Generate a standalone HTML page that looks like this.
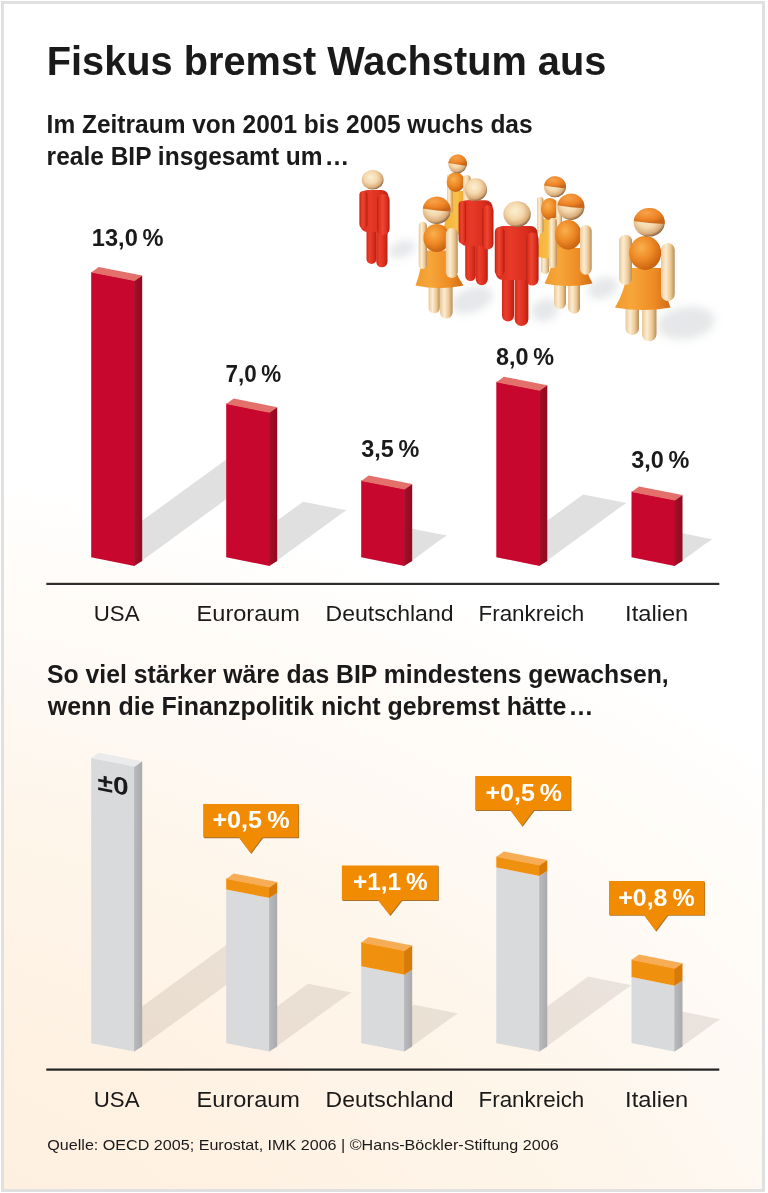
<!DOCTYPE html>
<html><head><meta charset="utf-8"><style>
html,body{margin:0;padding:0;background:#fff;}
body{width:768px;height:1193px;overflow:hidden;position:relative;font-family:"Liberation Sans",sans-serif;}
svg{position:absolute;left:0;top:0;}
text{font-family:"Liberation Sans",sans-serif;}
</style></head><body>
<svg width="768" height="1193" viewBox="0 0 768 1193">
<defs>
<radialGradient id="bg" gradientUnits="userSpaceOnUse" cx="-300" cy="1400" r="945" gradientTransform="translate(-300,1400) scale(1.556,1) translate(300,-1400)">
<stop offset="0" stop-color="#fdeddb"/>
<stop offset="0.295" stop-color="#fef0df"/>
<stop offset="0.476" stop-color="#fef2e4"/>
<stop offset="0.667" stop-color="#fef6eb"/>
<stop offset="0.743" stop-color="#fef8f1"/>
<stop offset="0.905" stop-color="#fffcf9"/>
<stop offset="1" stop-color="#ffffff"/>
</radialGradient>

<linearGradient id="gRed" x1="0" y1="0" x2="1" y2="0">
<stop offset="0" stop-color="#d2281a"/><stop offset="0.3" stop-color="#ea3f2c"/><stop offset="0.68" stop-color="#dd2e1e"/><stop offset="1" stop-color="#b32014"/></linearGradient>
<linearGradient id="gBeige" x1="0" y1="0" x2="1" y2="0">
<stop offset="0" stop-color="#e8c99a"/><stop offset="0.35" stop-color="#fcecd0"/><stop offset="0.7" stop-color="#ecc894"/><stop offset="1" stop-color="#b98c58"/></linearGradient>
<radialGradient id="gHead" cx="0.42" cy="0.38" r="0.62">
<stop offset="0" stop-color="#fbf0d2"/><stop offset="0.5" stop-color="#f4d8ac"/><stop offset="0.85" stop-color="#d9ab7a"/><stop offset="1" stop-color="#8e6a44"/></radialGradient>
<radialGradient id="gBall" cx="0.38" cy="0.35" r="0.7">
<stop offset="0" stop-color="#f9b04e"/><stop offset="0.5" stop-color="#ee8a26"/><stop offset="1" stop-color="#c45e0e"/></radialGradient>
<radialGradient id="gHair" cx="0.4" cy="0.3" r="0.7">
<stop offset="0" stop-color="#f7a24a"/><stop offset="0.6" stop-color="#ee8426"/><stop offset="1" stop-color="#c8651a"/></radialGradient>
<linearGradient id="gDress" x1="0" y1="0" x2="1" y2="0">
<stop offset="0" stop-color="#f29a2c"/><stop offset="0.3" stop-color="#f6a63a"/><stop offset="0.7" stop-color="#ee8c24"/><stop offset="1" stop-color="#d06c16"/></linearGradient>
<linearGradient id="gDressY" x1="0" y1="0" x2="1" y2="0">
<stop offset="0" stop-color="#f4b035"/><stop offset="0.5" stop-color="#f8c04a"/><stop offset="1" stop-color="#e39a22"/></linearGradient>
<linearGradient id="gRedT" x1="0" y1="0" x2="1" y2="0">
<stop offset="0" stop-color="#d62a1c"/><stop offset="0.35" stop-color="#e83a28"/><stop offset="0.7" stop-color="#dc2e1e"/><stop offset="1" stop-color="#b82216"/></linearGradient>
<linearGradient id="gArm" x1="0" y1="0" x2="1" y2="0">
<stop offset="0" stop-color="#b82014"/><stop offset="0.18" stop-color="#e0321f"/><stop offset="0.45" stop-color="#ee4632"/><stop offset="0.8" stop-color="#d82c1c"/><stop offset="1" stop-color="#a81c10"/></linearGradient>
<filter id="blur4" x="-50%" y="-50%" width="200%" height="200%"><feGaussianBlur stdDeviation="4"/></filter>
<filter id="blur6" x="-50%" y="-50%" width="200%" height="200%"><feGaussianBlur stdDeviation="6"/></filter>
<linearGradient id="gSideR" x1="0" y1="0" x2="1" y2="0"><stop offset="0" stop-color="#a80e28"/><stop offset="1" stop-color="#8e0a20"/></linearGradient>
<linearGradient id="gSideG" x1="0" y1="0" x2="1" y2="0"><stop offset="0" stop-color="#b9babd"/><stop offset="1" stop-color="#a9aaad"/></linearGradient>
</defs>
<rect x="0" y="0" width="768" height="1193" fill="#fff"/>
<rect x="2" y="2" width="762" height="1189" fill="url(#bg)"/>
<rect x="2.5" y="2.5" width="761" height="1188" fill="none" stroke="#e0e0e0" stroke-width="3"/>

<polygon points="98.7,552.3 227.6,458.4 271.1,467.0 263.6,472.0 134.7,565.9 91.2,557.3" fill="#e0e0e0"/>
<polygon points="233.7,552.3 303.1,501.7 346.6,510.3 339.1,515.3 269.7,565.9 226.2,557.3" fill="#e0e0e0"/>
<polygon points="368.7,552.3 403.4,527.0 446.9,535.6 439.4,540.6 404.7,565.9 361.2,557.3" fill="#e0e0e0"/>
<polygon points="503.8,552.3 583.1,494.5 626.6,503.1 619.1,508.1 539.8,565.9 496.3,557.3" fill="#e0e0e0"/>
<polygon points="639.0,552.3 668.7,530.6 712.2,539.2 704.7,544.2 675.0,565.9 631.5,557.3" fill="#e0e0e0"/>
<polygon points="91.2,271.9 134.7,280.6 134.7,565.9 91.2,557.3" fill="#c8072e"/>
<polygon points="134.1,280.6 142.2,275.6 142.2,560.9 134.1,565.9" fill="url(#gSideR)"/>
<polygon points="91.2,272.4 98.7,266.9 142.2,275.6 134.7,281.1" fill="#e3706a"/>
<polygon points="226.2,403.6 269.7,412.2 269.7,565.9 226.2,557.3" fill="#c8072e"/>
<polygon points="269.1,412.2 277.2,407.2 277.2,560.9 269.1,565.9" fill="url(#gSideR)"/>
<polygon points="226.2,404.1 233.7,398.6 277.2,407.2 269.7,412.8" fill="#e3706a"/>
<polygon points="361.2,480.5 404.7,489.1 404.7,565.9 361.2,557.3" fill="#c8072e"/>
<polygon points="404.1,489.1 412.2,484.1 412.2,560.9 404.1,565.9" fill="url(#gSideR)"/>
<polygon points="361.2,481.0 368.7,475.5 412.2,484.1 404.7,489.6" fill="#e3706a"/>
<polygon points="496.3,381.7 539.8,390.3 539.8,565.9 496.3,557.3" fill="#c8072e"/>
<polygon points="539.2,390.3 547.3,385.3 547.3,560.9 539.2,565.9" fill="url(#gSideR)"/>
<polygon points="496.3,382.2 503.8,376.7 547.3,385.3 539.8,390.8" fill="#e3706a"/>
<polygon points="631.5,491.4 675.0,500.0 675.0,565.9 631.5,557.3" fill="#c8072e"/>
<polygon points="674.4,500.0 682.5,495.0 682.5,560.9 674.4,565.9" fill="url(#gSideR)"/>
<polygon points="631.5,491.9 639.0,486.4 682.5,495.0 675.0,500.5" fill="#e3706a"/>
<polygon points="98.7,1038.0 227.6,944.1 271.1,952.7 263.6,957.7 134.7,1051.6 91.2,1043.0" fill="#4a3a2a" fill-opacity="0.11"/>
<polygon points="233.7,1038.0 308.0,983.8 351.5,992.4 344.0,997.4 269.7,1051.6 226.2,1043.0" fill="#4a3a2a" fill-opacity="0.11"/>
<polygon points="368.7,1038.0 414.3,1004.8 457.8,1013.4 450.3,1018.4 404.7,1051.6 361.2,1043.0" fill="#4a3a2a" fill-opacity="0.11"/>
<polygon points="503.8,1038.0 588.1,976.6 631.6,985.2 624.1,990.2 539.8,1051.6 496.3,1043.0" fill="#4a3a2a" fill-opacity="0.11"/>
<polygon points="639.0,1038.0 676.7,1010.6 720.2,1019.2 712.7,1024.2 675.0,1051.6 631.5,1043.0" fill="#4a3a2a" fill-opacity="0.11"/>
<polygon points="91.2,757.7 134.7,766.3 134.7,1051.6 91.2,1043.0" fill="#d9dadc"/>
<polygon points="134.1,766.3 142.2,761.3 142.2,1046.6 134.1,1051.6" fill="url(#gSideG)"/>
<polygon points="91.2,758.2 98.7,752.7 142.2,761.3 134.7,766.8" fill="#ebebec"/>
<polygon points="226.2,889.4 269.7,898.0 269.7,1051.6 226.2,1043.0" fill="#d9dadc"/>
<polygon points="269.1,898.0 277.2,893.0 277.2,1046.6 269.1,1051.6" fill="url(#gSideG)"/>
<polygon points="226.2,878.4 269.7,887.0 269.7,898.0 226.2,889.4" fill="#f0900f"/>
<polygon points="269.1,887.0 277.2,882.0 277.2,893.0 269.1,898.0" fill="#d87a08"/>
<polygon points="226.2,878.9 233.7,873.4 277.2,882.0 269.7,887.5" fill="#f7ad55"/>
<polygon points="361.2,966.2 404.7,974.8 404.7,1051.6 361.2,1043.0" fill="#d9dadc"/>
<polygon points="404.1,974.8 412.2,969.8 412.2,1046.6 404.1,1051.6" fill="url(#gSideG)"/>
<polygon points="361.2,942.0 404.7,950.6 404.7,974.8 361.2,966.2" fill="#f0900f"/>
<polygon points="404.1,950.6 412.2,945.6 412.2,969.8 404.1,974.8" fill="#d87a08"/>
<polygon points="361.2,942.5 368.7,937.0 412.2,945.6 404.7,951.1" fill="#f7ad55"/>
<polygon points="496.3,867.4 539.8,876.0 539.8,1051.6 496.3,1043.0" fill="#d9dadc"/>
<polygon points="539.2,876.0 547.3,871.0 547.3,1046.6 539.2,1051.6" fill="url(#gSideG)"/>
<polygon points="496.3,856.4 539.8,865.0 539.8,876.0 496.3,867.4" fill="#f0900f"/>
<polygon points="539.2,865.0 547.3,860.0 547.3,871.0 539.2,876.0" fill="#d87a08"/>
<polygon points="496.3,856.9 503.8,851.4 547.3,860.0 539.8,865.5" fill="#f7ad55"/>
<polygon points="631.5,977.1 675.0,985.8 675.0,1051.6 631.5,1043.0" fill="#d9dadc"/>
<polygon points="674.4,985.8 682.5,980.8 682.5,1046.6 674.4,1051.6" fill="url(#gSideG)"/>
<polygon points="631.5,959.6 675.0,968.2 675.0,985.8 631.5,977.1" fill="#f0900f"/>
<polygon points="674.4,968.2 682.5,963.2 682.5,980.8 674.4,985.8" fill="#d87a08"/>
<polygon points="631.5,960.1 639.0,954.6 682.5,963.2 675.0,968.7" fill="#f7ad55"/>
<polygon points="203.2,803.9 298.4,803.9 298.4,837.3 262.4,837.3 250.6,853.0 238.8,837.3 203.2,837.3" fill="#a8712e" transform="translate(0.7,0.9)"/>
<polygon points="203.2,803.9 298.4,803.9 298.4,837.3 262.4,837.3 250.6,853.0 238.8,837.3 203.2,837.3" fill="#f08b02"/>
<polygon points="341.9,865.4 438.1,865.4 438.1,900.0 401.6,900.0 389.8,915.0 378.0,900.0 341.9,900.0" fill="#a8712e" transform="translate(0.7,0.9)"/>
<polygon points="341.9,865.4 438.1,865.4 438.1,900.0 401.6,900.0 389.8,915.0 378.0,900.0 341.9,900.0" fill="#f08b02"/>
<polygon points="475.2,776.1 570.7,776.1 570.7,810.0 533.8,810.0 522.0,825.9 510.2,810.0 475.2,810.0" fill="#a8712e" transform="translate(0.7,0.9)"/>
<polygon points="475.2,776.1 570.7,776.1 570.7,810.0 533.8,810.0 522.0,825.9 510.2,810.0 475.2,810.0" fill="#f08b02"/>
<polygon points="609.0,881.0 704.4,881.0 704.4,914.9 667.5,914.9 655.7,930.8 643.9,914.9 609.0,914.9" fill="#a8712e" transform="translate(0.7,0.9)"/>
<polygon points="609.0,881.0 704.4,881.0 704.4,914.9 667.5,914.9 655.7,930.8 643.9,914.9 609.0,914.9" fill="#f08b02"/>
<rect x="46.3" y="582.8" width="673" height="2.2" fill="#2e2e2e"/>
<rect x="46.3" y="1068.5" width="673" height="2.2" fill="#222"/>
<g filter="url(#blur4)" fill="#8a9096" fill-opacity="0.22">
<ellipse cx="402" cy="249" rx="14" ry="8" transform="rotate(-20 402 249)"/>
<ellipse cx="472" cy="300" rx="22" ry="12" transform="rotate(-20 472 300)"/>
<ellipse cx="545" cy="310" rx="14" ry="11" transform="rotate(-20 545 310)"/>
<ellipse cx="603" cy="288" rx="16" ry="10" transform="rotate(-20 603 288)"/>
<ellipse cx="686" cy="323" rx="29" ry="16" transform="rotate(-8 686 323)"/>
</g>
<path d="M448.0,191.0 L464.0,191.0 Q465.5,215.6 470.0,232.0 Q456.5,237.0 443.0,232.0 Q446.8,215.6 448.0,191.0 Z" fill="url(#gDressY)"/>
<rect x="447.0" y="174.0" width="5.5" height="40.0" rx="2.8" fill="url(#gBeige)"/>
<ellipse cx="455.7" cy="182.0" rx="9.0" ry="10.0" fill="url(#gBall)"/>
<rect x="463.0" y="175.0" width="7.8" height="30.0" rx="3.9" fill="url(#gBeige)"/>
<ellipse cx="457.6" cy="163.8" rx="9.4" ry="9.4" fill="url(#gHead)"/>
<path d="M448.23,163.00 A9.40,9.40 0 1 1 466.74,166.00 Q457.60,164.69 448.23,163.00 Z" fill="url(#gHair)"/>
<rect x="541.0" y="250.0" width="8.0" height="24.0" rx="4.0" fill="url(#gBeige)"/>
<path d="M541.0,219.0 L560.0,219.0 Q560.5,241.2 562.0,256.0 Q549.0,261.0 536.0,256.0 Q539.8,241.2 541.0,219.0 Z" fill="url(#gDressY)"/>
<rect x="537.0" y="197.0" width="6.5" height="37.0" rx="3.2" fill="url(#gBeige)"/>
<ellipse cx="550.0" cy="209.0" rx="9.0" ry="11.0" fill="url(#gBall)"/>
<rect x="556.0" y="200.0" width="6.0" height="36.0" rx="3.0" fill="url(#gBeige)"/>
<ellipse cx="555.0" cy="186.8" rx="11.0" ry="10.5" fill="url(#gHead)"/>
<path d="M544.08,185.50 A11.00,10.50 0 1 1 565.85,188.50 Q555.00,187.39 544.08,185.50 Z" fill="url(#gHair)"/>
<rect x="366.5" y="222.0" width="10.0" height="42.0" rx="5.0" fill="url(#gRed)"/>
<rect x="376.2" y="222.0" width="11.3" height="45.3" rx="5.7" fill="url(#gRed)"/>
<rect x="360.4" y="190.0" width="28.2" height="42.0" rx="7.0" fill="url(#gRedT)"/>
<rect x="359.4" y="191.0" width="8.0" height="37.0" rx="4.0" fill="url(#gArm)"/>
<rect x="377.0" y="194.0" width="12.6" height="41.0" rx="6.3" fill="url(#gArm)"/>
<ellipse cx="372.7" cy="179.8" rx="10.9" ry="9.8" fill="url(#gHead)"/>
<rect x="465.2" y="240.0" width="10.6" height="41.0" rx="5.3" fill="url(#gRed)"/>
<rect x="475.6" y="240.0" width="12.2" height="45.2" rx="6.1" fill="url(#gRed)"/>
<rect x="459.6" y="200.3" width="32.9" height="45.7" rx="7.0" fill="url(#gRedT)"/>
<rect x="458.6" y="201.0" width="7.4" height="42.5" rx="3.7" fill="url(#gArm)"/>
<rect x="482.0" y="205.0" width="11.5" height="44.5" rx="5.8" fill="url(#gArm)"/>
<ellipse cx="475.8" cy="189.6" rx="11.3" ry="11.3" fill="url(#gHead)"/>
<rect x="428.6" y="280.0" width="11.2" height="33.3" rx="5.6" fill="url(#gBeige)"/>
<rect x="440.0" y="280.0" width="12.6" height="38.5" rx="6.3" fill="url(#gBeige)"/>
<path d="M423.0,250.5 L450.0,250.5 Q453.4,271.5 463.5,285.5 Q439.5,290.5 415.5,285.5 Q421.1,271.5 423.0,250.5 Z" fill="url(#gDress)"/>
<rect x="418.7" y="221.7" width="8.3" height="47.3" rx="4.2" fill="url(#gBeige)"/>
<ellipse cx="436.7" cy="238.0" rx="13.3" ry="14.0" fill="url(#gBall)"/>
<rect x="445.8" y="228.0" width="12.0" height="50.0" rx="6.0" fill="url(#gBeige)"/>
<ellipse cx="436.7" cy="210.3" rx="14.0" ry="13.7" fill="url(#gHead)"/>
<path d="M422.84,208.40 A14.00,13.70 0 0 1 450.65,211.40 Q436.70,210.87 422.84,208.40 Z" fill="url(#gHair)"/>
<rect x="502.0" y="272.0" width="12.0" height="49.6" rx="6.0" fill="url(#gRed)"/>
<rect x="514.6" y="272.0" width="13.8" height="54.0" rx="6.9" fill="url(#gRed)"/>
<rect x="495.8" y="226.0" width="41.8" height="54.0" rx="7.0" fill="url(#gRedT)"/>
<rect x="494.8" y="227.0" width="9.7" height="49.0" rx="4.8" fill="url(#gArm)"/>
<rect x="526.0" y="232.5" width="12.6" height="53.1" rx="6.3" fill="url(#gArm)"/>
<ellipse cx="517.1" cy="214.1" rx="13.7" ry="12.9" fill="url(#gHead)"/>
<rect x="554.0" y="276.0" width="12.0" height="33.0" rx="6.0" fill="url(#gBeige)"/>
<rect x="568.0" y="276.0" width="12.0" height="37.8" rx="6.0" fill="url(#gBeige)"/>
<path d="M554.5,248.0 L582.0,248.0 Q584.6,269.3 592.5,283.5 Q568.5,288.5 544.5,283.5 Q552.0,269.3 554.5,248.0 Z" fill="url(#gDress)"/>
<rect x="548.7" y="218.0" width="8.1" height="50.0" rx="4.0" fill="url(#gBeige)"/>
<ellipse cx="568.3" cy="234.9" rx="13.3" ry="14.8" fill="url(#gBall)"/>
<rect x="580.0" y="225.0" width="11.7" height="49.7" rx="5.9" fill="url(#gBeige)"/>
<ellipse cx="570.9" cy="206.7" rx="13.5" ry="13.3" fill="url(#gHead)"/>
<path d="M557.49,205.20 A13.50,13.30 0 0 1 584.31,208.20 Q570.90,207.59 557.49,205.20 Z" fill="url(#gHair)"/>
<rect x="625.5" y="300.0" width="13.5" height="35.0" rx="6.8" fill="url(#gBeige)"/>
<rect x="642.0" y="300.0" width="14.5" height="41.3" rx="7.2" fill="url(#gBeige)"/>
<path d="M628.0,268.0 L662.0,268.0 Q664.1,291.7 670.5,307.5 Q642.8,312.5 615.0,307.5 Q624.8,291.7 628.0,268.0 Z" fill="url(#gDress)"/>
<rect x="619.0" y="234.7" width="13.0" height="50.1" rx="6.5" fill="url(#gBeige)"/>
<ellipse cx="645.2" cy="252.9" rx="16.0" ry="17.0" fill="url(#gBall)"/>
<rect x="661.0" y="242.9" width="13.7" height="58.1" rx="6.9" fill="url(#gBeige)"/>
<ellipse cx="649.2" cy="222.4" rx="15.5" ry="14.2" fill="url(#gHead)"/>
<path d="M633.78,221.00 A15.50,14.20 0 1 1 664.60,224.00 Q649.20,223.56 633.78,221.00 Z" fill="url(#gHair)"/>
<text x="46.8" y="74.9" font-size="40.5" font-weight="bold" fill="#1a1a1a" textLength="559.5" lengthAdjust="spacingAndGlyphs">Fiskus bremst Wachstum aus</text>
<text x="46.6" y="132.6" font-size="25.2" font-weight="bold" fill="#1a1a1a" textLength="486.0" lengthAdjust="spacingAndGlyphs">Im Zeitraum von 2001 bis 2005 wuchs das</text>
<text x="46.6" y="164.7" font-size="25.2" font-weight="bold" fill="#1a1a1a" textLength="302.6" lengthAdjust="spacingAndGlyphs">reale BIP insgesamt um …</text>
<text x="47.0" y="683.3" font-size="25.2" font-weight="bold" fill="#1a1a1a" textLength="621.7" lengthAdjust="spacingAndGlyphs">So viel stärker wäre das BIP mindestens gewachsen,</text>
<text x="47.8" y="715.1" font-size="25.2" font-weight="bold" fill="#1a1a1a" textLength="545.6" lengthAdjust="spacingAndGlyphs">wenn die Finanzpolitik nicht gebremst hätte …</text>
<text x="91.8" y="246.0" font-size="24.5" font-weight="bold" fill="#1a1a1a" textLength="71.7" lengthAdjust="spacingAndGlyphs">13,0 %</text>
<text x="225.6" y="381.9" font-size="24.5" font-weight="bold" fill="#1a1a1a" textLength="55.5" lengthAdjust="spacingAndGlyphs">7,0 %</text>
<text x="361.2" y="456.9" font-size="24.5" font-weight="bold" fill="#1a1a1a" textLength="58.0" lengthAdjust="spacingAndGlyphs">3,5 %</text>
<text x="496.1" y="364.9" font-size="24.5" font-weight="bold" fill="#1a1a1a" textLength="58.0" lengthAdjust="spacingAndGlyphs">8,0 %</text>
<text x="631.2" y="467.9" font-size="24.5" font-weight="bold" fill="#1a1a1a" textLength="58.1" lengthAdjust="spacingAndGlyphs">3,0 %</text>
<text x="212.4" y="828.4" font-size="24.0" font-weight="bold" fill="#ffffff" textLength="77.2" lengthAdjust="spacingAndGlyphs">+0,5 %</text>
<text x="352.9" y="890.4" font-size="24.0" font-weight="bold" fill="#ffffff" textLength="74.7" lengthAdjust="spacingAndGlyphs">+1,1 %</text>
<text x="485.5" y="801.4" font-size="24.0" font-weight="bold" fill="#ffffff" textLength="76.6" lengthAdjust="spacingAndGlyphs">+0,5 %</text>
<text x="618.2" y="905.9" font-size="24.0" font-weight="bold" fill="#ffffff" textLength="76.5" lengthAdjust="spacingAndGlyphs">+0,8 %</text>
<text x="93.7" y="620.9" font-size="21.6" font-weight="normal" fill="#1a1a1a" textLength="45.8" lengthAdjust="spacingAndGlyphs">USA</text>
<text x="196.6" y="620.9" font-size="21.6" font-weight="normal" fill="#1a1a1a" textLength="103.4" lengthAdjust="spacingAndGlyphs">Euroraum</text>
<text x="325.5" y="620.9" font-size="21.6" font-weight="normal" fill="#1a1a1a" textLength="128.0" lengthAdjust="spacingAndGlyphs">Deutschland</text>
<text x="478.5" y="620.9" font-size="21.6" font-weight="normal" fill="#1a1a1a" textLength="105.8" lengthAdjust="spacingAndGlyphs">Frankreich</text>
<text x="625.1" y="620.9" font-size="21.6" font-weight="normal" fill="#1a1a1a" textLength="63.2" lengthAdjust="spacingAndGlyphs">Italien</text>
<text x="93.7" y="1106.7" font-size="21.6" font-weight="normal" fill="#1a1a1a" textLength="45.8" lengthAdjust="spacingAndGlyphs">USA</text>
<text x="196.6" y="1106.7" font-size="21.6" font-weight="normal" fill="#1a1a1a" textLength="103.4" lengthAdjust="spacingAndGlyphs">Euroraum</text>
<text x="325.5" y="1106.7" font-size="21.6" font-weight="normal" fill="#1a1a1a" textLength="128.0" lengthAdjust="spacingAndGlyphs">Deutschland</text>
<text x="478.5" y="1106.7" font-size="21.6" font-weight="normal" fill="#1a1a1a" textLength="105.8" lengthAdjust="spacingAndGlyphs">Frankreich</text>
<text x="625.1" y="1106.7" font-size="21.6" font-weight="normal" fill="#1a1a1a" textLength="63.2" lengthAdjust="spacingAndGlyphs">Italien</text>
<text x="47.3" y="1149.8" font-size="15.0" font-weight="normal" fill="#1a1a1a" textLength="511.3" lengthAdjust="spacingAndGlyphs">Quelle: OECD 2005; Eurostat, IMK 2006 | ©Hans-Böckler-Stiftung 2006</text>
<g transform="translate(97.5,794.8) skewY(11.2)"><text x="0" y="-5" font-size="24.5" font-weight="bold" fill="#1a1a1a" textLength="31" lengthAdjust="spacingAndGlyphs">±0</text></g>
</svg>
</body></html>
